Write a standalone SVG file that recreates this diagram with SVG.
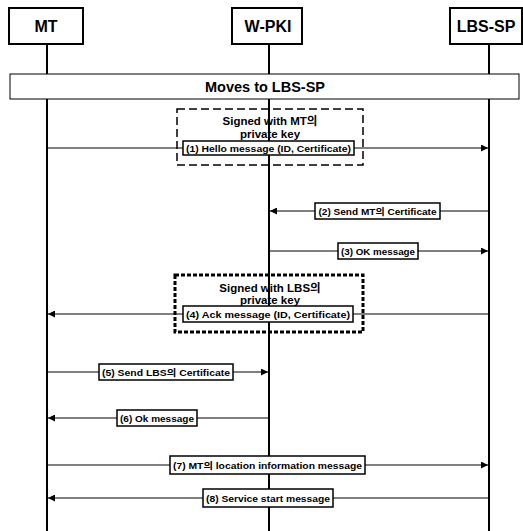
<svg xmlns="http://www.w3.org/2000/svg" width="523" height="531" viewBox="0 0 523 531">
<defs>
<style>
.actor{fill:#fff;stroke:#000;stroke-width:2}
.lt{font-family:"Liberation Sans","Noto Sans CJK KR",Arial,sans-serif;font-weight:bold;fill:#000;text-anchor:middle}
.life{stroke:#000;stroke-width:2;fill:none}
.msg{stroke:#000;stroke-width:1;fill:none}
.mbox{fill:#fff;stroke:#000;stroke-width:1.5}
.banner{fill:#fff;stroke:#000;stroke-width:1}
</style>
<marker id="ah" viewBox="0 0 10 10" refX="10" refY="5" markerWidth="9" markerHeight="7" markerUnits="userSpaceOnUse" orient="auto">
<path d="M0,0 L10,5 L0,10 z" fill="#000"/>
</marker>
</defs>
<rect width="523" height="531" fill="#fff"/>
<g id="lifelines">
<line class="life" x1="47" y1="44" x2="47" y2="531"/>
<line class="life" x1="269" y1="44" x2="269" y2="531"/>
<line class="life" x1="489" y1="44" x2="489" y2="531"/>
</g>
<g id="actor-MT"><rect class="actor" x="9" y="8" width="74" height="36"/><text class="lt" x="46" y="32" font-size="16">MT</text></g>
<g id="actor-WPKI"><rect class="actor" x="232" y="8" width="70" height="36"/><text class="lt" x="268" y="32" font-size="16">W-PKI</text></g>
<g id="actor-LBSSP"><rect class="actor" x="450" y="8" width="72" height="36"/><text class="lt" x="486" y="32" font-size="16">LBS-SP</text></g>
<g id="banner"><rect class="banner" x="10" y="74" width="509" height="25"/><text class="lt" x="265" y="92" font-size="14.5">Moves to LBS-SP</text></g>
<g id="sign-MT">
<rect x="177" y="109" width="186" height="56" fill="none" stroke="#000" stroke-width="1.5" stroke-dasharray="8,4"/>
<text class="lt" x="270" y="125" font-size="11.5">Signed with MT의</text>
<text class="lt" x="270" y="138" font-size="11.5">private key</text>
</g>
<g id="sign-LBS">
<rect x="175" y="275" width="188" height="57" fill="none" stroke="#000" stroke-width="3" stroke-dasharray="4,2"/>
<text class="lt" x="270" y="292" font-size="11.5">Signed with LBS의</text>
<text class="lt" x="270" y="304" font-size="11.5">private key</text>
</g>
<g id="connectors">
<line class="msg" x1="48" y1="148" x2="488" y2="148" marker-end="url(#ah)"/>
<line class="msg" x1="488" y1="211" x2="270" y2="211" marker-end="url(#ah)"/>
<line class="msg" x1="270" y1="251" x2="488" y2="251" marker-end="url(#ah)"/>
<line class="msg" x1="488" y1="314" x2="48" y2="314" marker-end="url(#ah)"/>
<line class="msg" x1="48" y1="372" x2="268" y2="372" marker-end="url(#ah)"/>
<line class="msg" x1="268" y1="418" x2="48" y2="418" marker-end="url(#ah)"/>
<line class="msg" x1="48" y1="465" x2="488" y2="465" marker-end="url(#ah)"/>
<line class="msg" x1="488" y1="498" x2="48" y2="498" marker-end="url(#ah)"/>
</g>
<g id="m1"><rect class="mbox" x="183" y="141" width="171" height="14"/><text class="lt" x="268.5" y="151.5" font-size="9" textLength="165" lengthAdjust="spacingAndGlyphs">(1) Hello message (ID, Certificate)</text></g>
<g id="m2"><rect class="mbox" x="315" y="203" width="125" height="16"/><text class="lt" x="377.5" y="214.5" font-size="9" textLength="118" lengthAdjust="spacingAndGlyphs">(2) Send MT의 Certificate</text></g>
<g id="m3"><rect class="mbox" x="338" y="243" width="80" height="16"/><text class="lt" x="378" y="254.5" font-size="9" textLength="74" lengthAdjust="spacingAndGlyphs">(3) OK message</text></g>
<g id="m4"><rect class="mbox" x="183" y="306" width="170" height="16"/><text class="lt" x="268" y="317.5" font-size="9" textLength="164" lengthAdjust="spacingAndGlyphs">(4) Ack message (ID, Certificate)</text></g>
<g id="m5"><rect class="mbox" x="99" y="364" width="134" height="16"/><text class="lt" x="166" y="375.5" font-size="9" textLength="128" lengthAdjust="spacingAndGlyphs">(5) Send LBS의 Certificate</text></g>
<g id="m6"><rect class="mbox" x="117" y="410" width="80" height="16"/><text class="lt" x="157" y="421.5" font-size="9" textLength="74" lengthAdjust="spacingAndGlyphs">(6) Ok message</text></g>
<g id="m7"><rect class="mbox" x="170" y="456" width="195" height="18"/><text class="lt" x="267.5" y="468.5" font-size="9" textLength="189" lengthAdjust="spacingAndGlyphs">(7) MT의 location information message</text></g>
<g id="m8"><rect class="mbox" x="203" y="489" width="130" height="18"/><text class="lt" x="268" y="501.5" font-size="9" textLength="124" lengthAdjust="spacingAndGlyphs">(8) Service start message</text></g>
</svg>
